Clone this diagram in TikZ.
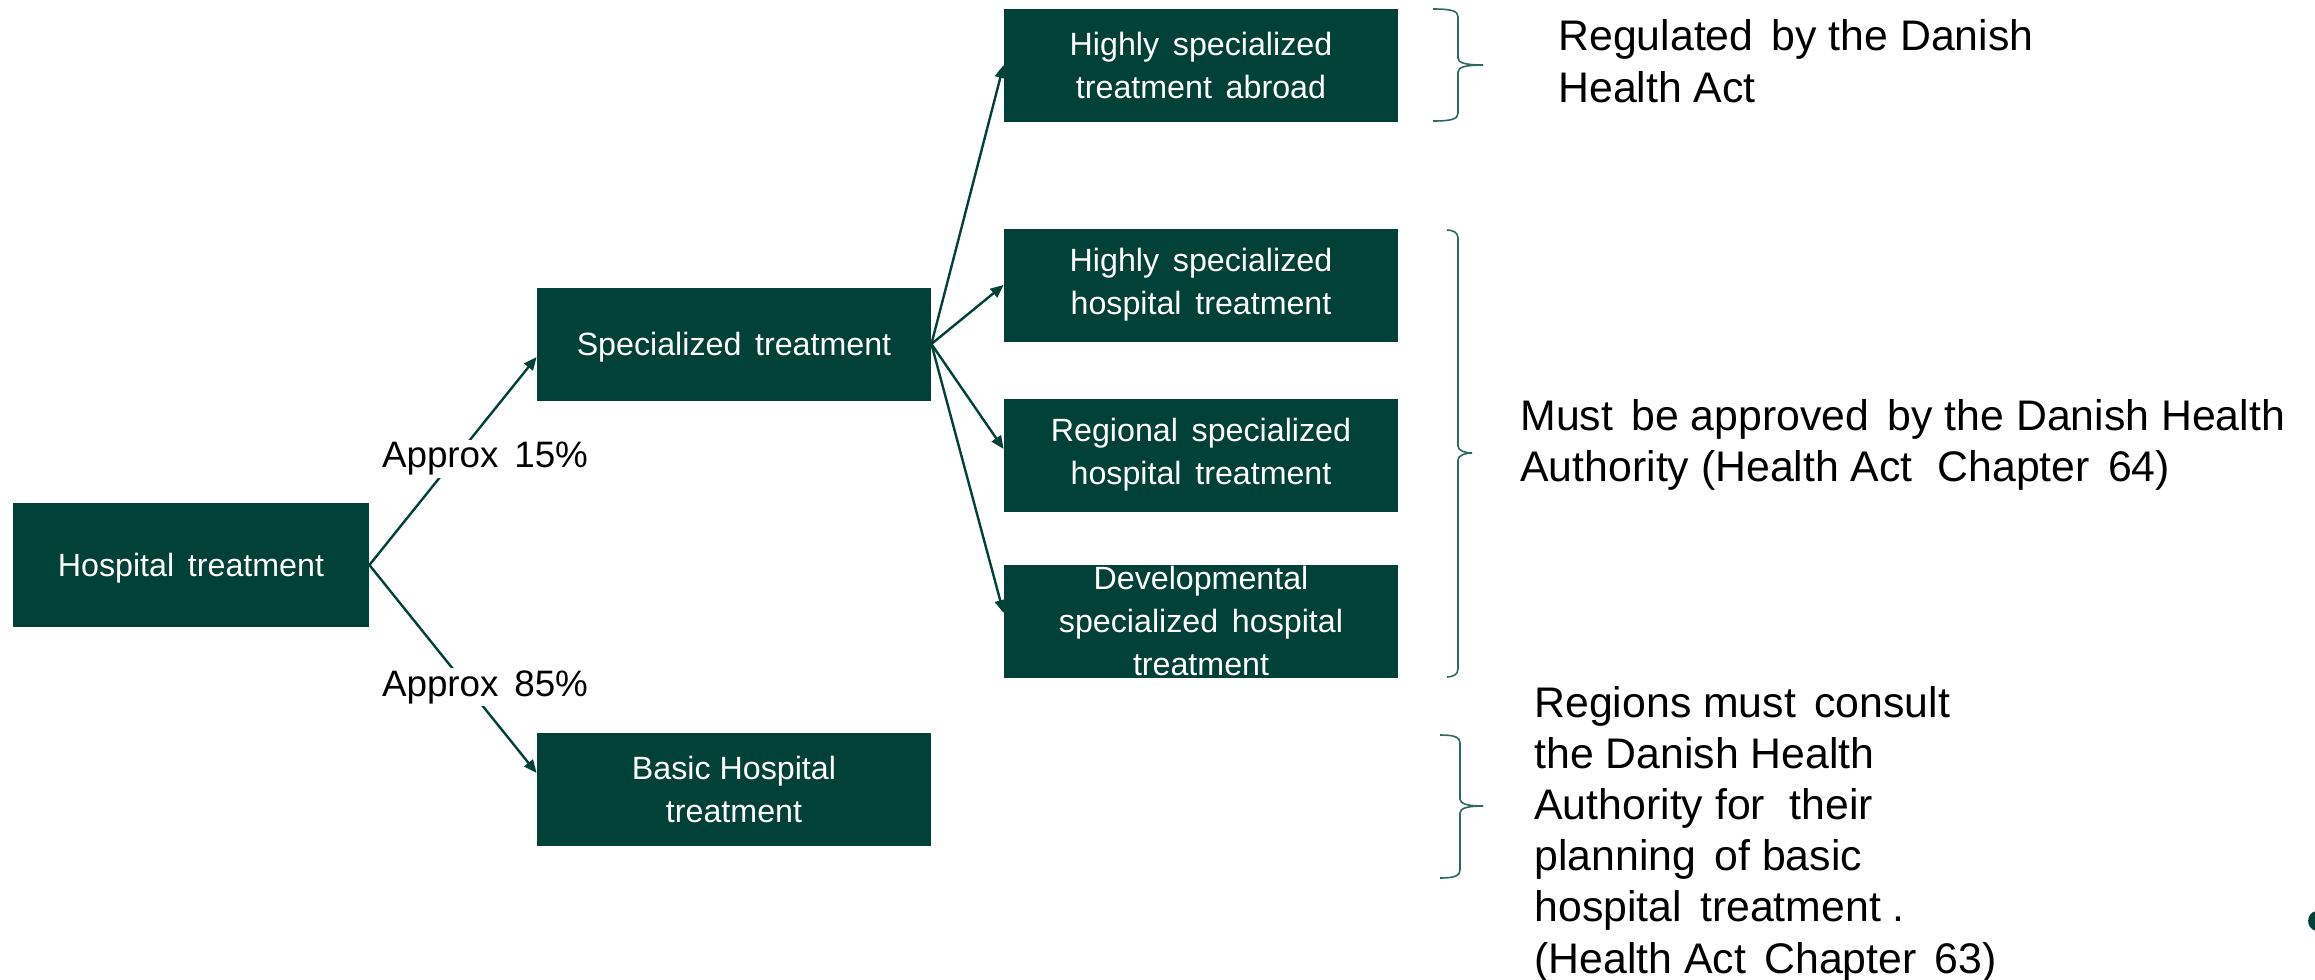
\documentclass[tikz,border=0pt]{standalone}
\usepackage{fontspec}
\setmainfont{Liberation Sans}
\usetikzlibrary{arrows.meta}
\definecolor{dkgreen}{RGB}{2,65,56}
\definecolor{bracecol}{RGB}{45,105,95}
\newcommand\xs{\hspace{0.15em}}
\newcommand\mybrace[6]{%
  \draw[brc] (#1,#4) .. controls ({#2-6},#4) and (#2,{#4+2}) .. (#2,{#4+8})
    -- (#2,{#5-7}) .. controls (#2,{#5-2}) and ({#2+8},#5) .. (#3,#5);
  \draw[brc] (#3,#5) .. controls ({#2+8},#5) and (#2,{#5+2}) .. (#2,{#5+7})
    -- (#2,{#6-8}) .. controls (#2,{#6-2}) and ({#2-6},#6) .. (#1,#6);
}
\begin{document}
\begin{tikzpicture}[x=0.5pt,y=-0.5pt,
  box/.style={fill=dkgreen, draw=none, text=white, minimum width=197pt,
    minimum height=56.5pt, align=center, inner sep=0pt,
    font=\fontsize{16.1}{21.5}\selectfont},
  oneline/.style={text height=1.1em, text depth=0pt},
  lbl/.style={fill=white, inner sep=1pt, font=\fontsize{18.4}{22}\selectfont},
  note/.style={anchor=west, align=left, inner sep=0pt,
    font=\fontsize{21.4}{25.9}\selectfont},
  conn/.style={draw=dkgreen, line width=1.2pt, -{Triangle[length=6.5pt,width=5.5pt]}},
  brc/.style={draw=bracecol, line width=0.8pt}
]
\useasboundingbox (0,0) rectangle (2315,980);

% boxes
\node[box, oneline, minimum width=178pt, minimum height=62pt] (hosp) at (191,565) {Hospital\xs{} treatment};
\node[box, oneline] (spec) at (734,344) {Specialized\xs{} treatment};
\node[box] (basic) at (734,789) {Basic Hospital\\treatment};
\node[box] (abroad) at (1201,65) {Highly\xs{} specialized\\treatment\xs{} abroad};
\node[box] (hsh) at (1201,285) {Highly\xs{} specialized\\hospital\xs{} treatment};
\node[box] (reg) at (1201,455) {Regional\xs{} specialized\\hospital\xs{} treatment};
\node[box] (dev) at (1201,621) {Developmental\\specialized\xs{} hospital\\treatment};

% connectors
\draw[conn] (hosp.east) -- ([yshift=-6.5pt]spec.west);
\draw[conn] (hosp.east) -- ([yshift=8pt]basic.west);
\draw[conn] (spec.east) -- (abroad.west);
\draw[conn] (spec.east) -- (hsh.west);
\draw[conn] (spec.east) -- ([yshift=3pt]reg.west);
\draw[conn] (spec.east) -- ([yshift=4pt]dev.west);

% labels on connectors
\node[lbl] (l15) at (485,459) {Approx\xs{} 15\%};
\node[lbl] (l85) at (485,687) {Approx\xs{} 85\%};

% braces
\mybrace{1433}{1458}{1483}{9}{65}{121}
\mybrace{1447}{1458}{1472}{230}{453}{677}
\mybrace{1440}{1460}{1483}{735}{806}{878}

% notes
\node[note] (t1) at (1558,61) {Regulated\xs{} by the Danish\\Health Act};
\node[note] (t2) at (1520,445) {Must\xs{} be approved\xs{} by the Danish Health\\Authority (Health Act\xs\xs{} Chapter\xs{} 64)};
\node[note, font=\fontsize{21.4}{25.6}\selectfont] (t3) at (1534,834) {Regions must\xs{} consult\\the Danish Health\\Authority for\xs\xs{} their\\planning\xs{} of basic\\hospital\xs{} treatment .\\(Health Act\xs{} Chapter\xs{} 63)};

% corner mark
\fill[dkgreen] (2316,911) .. controls (2306,913) and (2305,928) .. (2316,931) -- cycle;
\end{tikzpicture}
\end{document}
